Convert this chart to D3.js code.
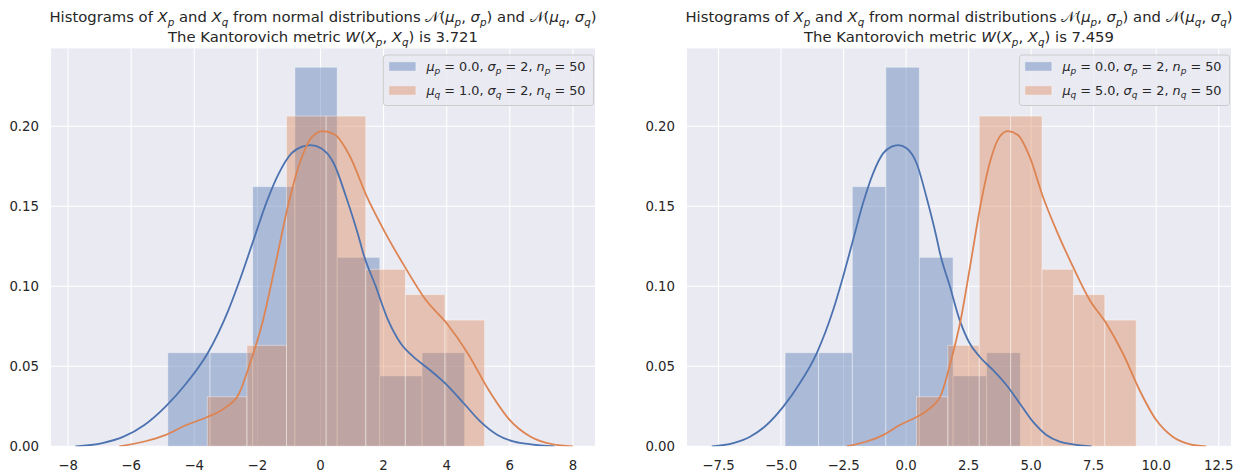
<!DOCTYPE html>
<html><head><meta charset="utf-8">
<script src="https://cdn.jsdelivr.net/npm/d3@7"></script>
<style>
body{margin:0;background:#fff}
svg{display:block}
text{font-family:"DejaVu Sans",sans-serif;fill:#262626}
</style>
</head><body>
<svg id="c" width="1241" height="474"></svg>
<script>
// ---------- data ----------
const pBinEdges = [-4.84, -3.50, -2.15, -0.81, 0.53, 1.88, 3.22, 4.57];
const pDensity  = [0.0585, 0.0585, 0.1623, 0.2369, 0.1181, 0.0440, 0.0585];

const qBinEdgesLeft  = [-3.585, -2.33, -1.075, 0.18, 1.435, 2.69, 3.945, 5.2];
const qBinEdgesRight = [0.415, 1.67, 2.925, 4.18, 5.435, 6.69, 7.945, 9.2];
const qDensity       = [0.0310, 0.0631, 0.2064, 0.2064, 0.1106, 0.0948, 0.0789];

const pKdeX = [-7.77,-6.91,-6.24,-5.58,-4.91,-4.25,-3.58,-2.92,-2.52,-2.12,-1.72,-1.32,-0.92,-0.58,-0.32,0.02,0.42,0.81,1.21,1.35,1.75,2.14,2.54,2.94,3.47,4.01,4.54,5.07,5.61,6.14,6.67,7.42];
const pKdeY = [0,0.002,0.006,0.0133,0.0248,0.0394,0.058,0.085,0.106,0.129,0.152,0.1706,0.1831,0.1873,0.1883,0.1863,0.1769,0.156,0.131,0.121,0.100,0.079,0.0644,0.056,0.0477,0.0383,0.0269,0.0154,0.0071,0.0029,0.0012,0];

const qKdeXLeft  = [-6.38,-5.58,-4.92,-4.25,-3.62,-3.05,-2.58,-2.23,-1.83,-1.42,-1.06,-0.66,-0.26,0.07,0.47,0.94,1.47,2.01,2.67,3.34,4.0,4.67,5.33,6.0,6.66,7.33,8.0];
const qKdeXRight = [-2.38,-1.58,-0.92,-0.25,0.38,0.95,1.42,1.77,2.17,2.58,2.94,3.34,3.74,4.07,4.47,4.94,5.47,6.01,6.67,7.34,8.0,8.67,9.33,10.0,10.66,11.33,12.0];
const qKdeY      = [0,0.003,0.007,0.0133,0.018,0.0237,0.033,0.052,0.078,0.1144,0.1477,0.1769,0.1935,0.197,0.1946,0.181,0.156,0.135,0.1123,0.0914,0.0769,0.058,0.0352,0.0164,0.006,0.0014,0];

const xTicksLeft  = [-8, -6, -4, -2, 0, 2, 4, 6, 8];
const xTicksRight = [-7.5, -5, -2.5, 0, 2.5, 5, 7.5, 10, 12.5];
const yTicks = [0, 0.05, 0.10, 0.15, 0.20];

const kantorovich = ["3.721", "7.459"];
const muP = ["0.0", "0.0"];
const muQ = ["1.0", "5.0"];
const sigmaP = "2", sigmaQ = "2", nP = "50", nQ = "50";

// ---------- style / layout ----------
const C0 = "#4C72B0", C1 = "#DD8452", BG = "#EAEAF2";
const svg = d3.select("#c");
const yTop = 48.4, yBot = 446.3;
const panels = [
  {x0: 51, x1: 595, dom: [-8.54, 8.70], ticks: xTicksLeft, fmt: d3.format(".0f"),
   qEdges: qBinEdgesLeft, qKdeX: qKdeXLeft, w: kantorovich[0], muP: muP[0], muQ: muQ[0]},
  {x0: 687, x1: 1231, dom: [-8.76, 12.99], ticks: xTicksRight, fmt: d3.format(".1f"),
   qEdges: qBinEdgesRight, qKdeX: qKdeXRight, w: kantorovich[1], muP: muP[1], muQ: muQ[1]}
];

function rich(textSel, parts, fs) {
  let sub = false;
  parts.forEach(([t, st]) => {
    const ts = textSel.append("tspan").text(t);
    const isSub = st.includes("s");
    if (st.includes("i")) ts.attr("font-style", "italic");
    if (isSub) ts.attr("font-size", (fs * 0.7).toFixed(2));
    if (isSub && !sub) ts.attr("dy", (fs * 0.25).toFixed(2));
    if (!isSub && sub) ts.attr("dy", (-fs * 0.25).toFixed(2));
    sub = isSub;
  });
}

panels.forEach((P, k) => {
  const x = d3.scaleLinear().domain(P.dom).range([P.x0, P.x1]);
  const y = d3.scaleLinear().domain([0, 0.2487]).range([yBot, yTop]);
  const g = svg.append("g");
  const cid = "clip" + k;
  svg.append("clipPath").attr("id", cid).append("rect")
    .attr("x", P.x0).attr("y", yTop).attr("width", P.x1 - P.x0).attr("height", yBot - yTop);

  g.append("rect").attr("x", P.x0).attr("y", yTop).attr("width", P.x1 - P.x0)
    .attr("height", yBot - yTop).attr("fill", BG);

  // grid
  g.append("g").selectAll("line").data(P.ticks).join("line")
    .attr("x1", d => x(d)).attr("x2", d => x(d)).attr("y1", yTop).attr("y2", yBot)
    .attr("stroke", "#fff").attr("stroke-width", 1.1);
  g.append("g").selectAll("line").data(yTicks).join("line")
    .attr("x1", P.x0).attr("x2", P.x1).attr("y1", d => y(d)).attr("y2", d => y(d))
    .attr("stroke", "#fff").attr("stroke-width", 1.1);

  const plot = g.append("g").attr("clip-path", `url(#${cid})`);
  const line = d3.line().x(d => x(d[0])).y(d => y(d[1])).curve(d3.curveMonotoneX);

  function bars(edges, dens, col) {
    plot.append("g").selectAll("rect").data(dens).join("rect")
      .attr("x", (d, i) => x(edges[i])).attr("width", (d, i) => x(edges[i + 1]) - x(edges[i]))
      .attr("y", d => y(d)).attr("height", d => y(0) - y(d))
      .attr("fill", col).attr("fill-opacity", 0.4)
      .attr("stroke", "#fff").attr("stroke-opacity", 0.4).attr("stroke-width", 1);
  }
  // patches below lines (matplotlib z-order)
  bars(pBinEdges, pDensity, C0);
  bars(P.qEdges, qDensity, C1);
  plot.append("path").datum(d3.zip(pKdeX, pKdeY)).attr("d", line)
    .attr("fill", "none").attr("stroke", C0).attr("stroke-width", 1.8);
  plot.append("path").datum(d3.zip(P.qKdeX, qKdeY)).attr("d", line)
    .attr("fill", "none").attr("stroke", C1).attr("stroke-width", 1.8);

  // tick labels
  g.append("g").selectAll("text").data(P.ticks).join("text")
    .attr("x", d => x(d)).attr("y", yBot + 24).attr("text-anchor", "middle")
    .attr("font-size", 13.3).text(d => P.fmt(d).replace("-", "\u2212"));
  g.append("g").selectAll("text").data(yTicks).join("text")
    .attr("x", P.x0 - 12).attr("y", d => y(d)).attr("dy", "0.36em").attr("text-anchor", "end")
    .attr("font-size", 13.3).text(d => d3.format(".2f")(d));

  // title
  const cx = (P.x0 + P.x1) / 2, tfs = 14.8;
  const t1 = g.append("text").attr("x", cx).attr("y", 22).attr("text-anchor", "middle").attr("font-size", tfs);
  rich(t1, [["Histograms of ", ""], ["X", "i"], ["p", "is"], [" and ", ""], ["X", "i"], ["q", "is"],
    [" from normal distributions ", ""], ["\uD835\uDCA9", ""], ["(", ""], ["\u03BC", "i"], ["p", "is"], [", ", ""],
    ["\u03C3", "i"], ["p", "is"], [")", ""], [" and ", ""], ["\uD835\uDCA9", ""], ["(", ""], ["\u03BC", "i"], ["q", "is"],
    [", ", ""], ["\u03C3", "i"], ["q", "is"], [")", ""]], tfs);
  const t2 = g.append("text").attr("x", cx).attr("y", 42).attr("text-anchor", "middle").attr("font-size", tfs);
  rich(t2, [["The Kantorovich metric ", ""], ["W", "i"], ["(", ""], ["X", "i"], ["p", "is"], [", ", ""],
    ["X", "i"], ["q", "is"], [")", ""], [" is " + P.w, ""]], tfs);

  // legend
  const lfs = 12.8;
  const lg = g.append("g");
  const box = lg.append("rect");
  const rows = [
    {col: C0, parts: [["\u03BC", "i"], ["p", "is"], [" = " + P.muP + ", ", ""], ["\u03C3", "i"], ["p", "is"],
      [" = " + sigmaP + ", ", ""], ["n", "i"], ["p", "is"], [" = " + nP, ""]]},
    {col: C1, parts: [["\u03BC", "i"], ["q", "is"], [" = " + P.muQ + ", ", ""], ["\u03C3", "i"], ["q", "is"],
      [" = " + sigmaQ + ", ", ""], ["n", "i"], ["q", "is"], [" = " + nQ, ""]]}
  ];
  let maxW = 0;
  const texts = rows.map((r, i) => {
    const t = lg.append("text").attr("font-size", lfs);
    rich(t, r.parts, lfs);
    maxW = Math.max(maxW, t.node().getComputedTextLength());
    return t;
  });
  const padL = 5.5, patchW = 27, gap = 10.5, padR = 8;
  const bw = padL + patchW + gap + maxW + padR;
  const bx = P.x1 - 1.5 - bw, by = yTop + 6.6, bh = 50.5;
  box.attr("x", bx).attr("y", by).attr("width", bw).attr("height", bh).attr("rx", 3)
    .attr("fill", BG).attr("fill-opacity", 0.8).attr("stroke", "#cccccc").attr("stroke-width", 1);
  const rowY = [by + 11.5, by + 35.5];
  rows.forEach((r, i) => {
    lg.append("rect").attr("x", bx + padL).attr("y", rowY[i] - 4.7)
      .attr("width", patchW).attr("height", 9.3)
      .attr("fill", r.col).attr("fill-opacity", 0.4).attr("stroke", "#fff").attr("stroke-opacity", 0.4);
    texts[i].attr("x", bx + padL + patchW + gap).attr("y", rowY[i]).attr("dy", "0.36em");
  });
});
</script>
</body></html>
